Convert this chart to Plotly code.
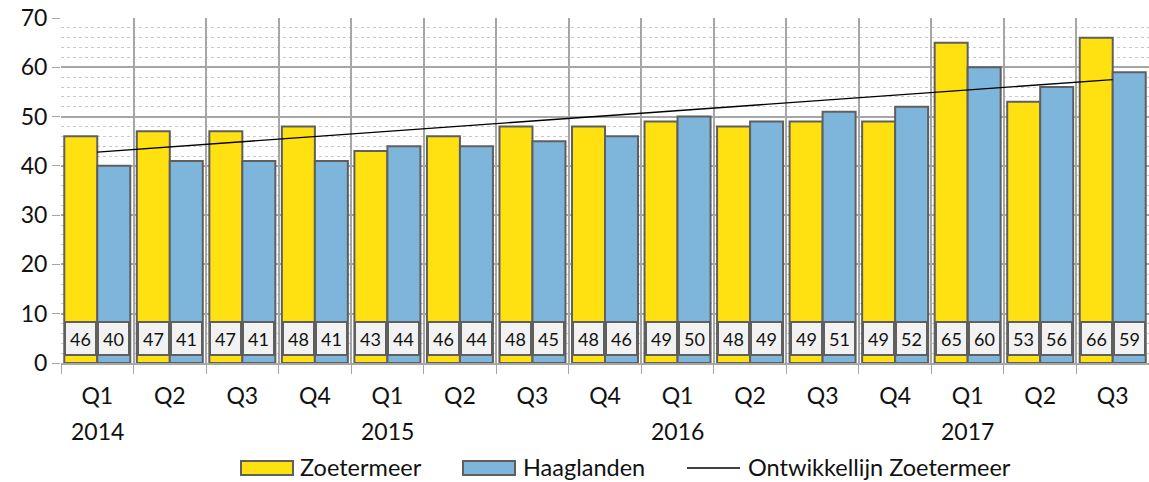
import plotly.graph_objects as go

quarters = ["Q1", "Q2", "Q3", "Q4", "Q1", "Q2", "Q3", "Q4", "Q1", "Q2", "Q3", "Q4", "Q1", "Q2", "Q3"]
years = ["2014", "", "", "", "2015", "", "", "", "2016", "", "", "", "2017", "", ""]
zoetermeer = [46, 47, 47, 48, 43, 46, 48, 48, 49, 48, 49, 49, 65, 53, 66]
haaglanden = [40, 41, 41, 41, 44, 44, 45, 46, 50, 49, 51, 52, 60, 56, 59]
trend_values = [42.8, 57.5]  # start (Q1 2014) and end (Q3 2017) of trend line
series_names = ["Zoetermeer", "Haaglanden", "Ontwikkellijn Zoetermeer"]

cats = [f"{q} {y}" if y else f"{q} {i}" for i, (q, y) in enumerate(zip(quarters, years))]

FONT = "Lato, 'Open Sans', sans-serif"
YELLOW = "#FFE010"
BLUE = "#7EB5DA"
EDGE = "#5F5F5F"
TXT = "#111111"

W, H = 1149, 482
ML, MR, MT, MB = 61, 0, 18, 119
PW, PH = W - ML - MR, H - MT - MB


def px_x(x):
    return (x - ML) / PW


def px_y(y):
    return (H - MB - y) / PH


fig = go.Figure()
fig.add_trace(go.Bar(x=cats, y=zoetermeer, name=series_names[0],
                     marker=dict(color=YELLOW, line=dict(color=EDGE, width=2))))
fig.add_trace(go.Bar(x=cats, y=haaglanden, name=series_names[1],
                     marker=dict(color=BLUE, line=dict(color=EDGE, width=2))))
fig.add_trace(go.Scatter(x=[cats[0], cats[-1]], y=trend_values, mode="lines",
                         name=series_names[2],
                         line=dict(color="black", width=1.3)))

# value boxes
for c, z, h in zip(cats, zoetermeer, haaglanden):
    for v, shift in ((z, -16.5), (h, 16.5)):
        fig.add_annotation(x=c, y=4.9, xref="x", yref="y", text=str(v), showarrow=False,
                           xshift=shift, width=29, height=31, borderpad=0,
                           bgcolor="#F2F2F2", bordercolor=EDGE, borderwidth=2,
                           font=dict(family=FONT, size=18, color=TXT))

# year labels under Q1 ticks
for c, y in zip(cats, years):
    if y:
        fig.add_annotation(x=c, y=px_y(431), xref="x", yref="paper", text=y,
                           showarrow=False, yanchor="middle",
                           font=dict(family=FONT, size=23, color=TXT))

# custom legend
legend_items = [
    (series_names[0], "rect", YELLOW, 241, 293, 298),
    (series_names[1], "rect", BLUE, 463, 515, 521),
    (series_names[2], "line", "black", 687, 740, 746),
]
LY = 468
for name, kind, color, x0, x1, tx in legend_items:
    if kind == "rect":
        fig.add_shape(type="rect", xref="paper", yref="paper",
                      x0=px_x(x0), x1=px_x(x1), y0=px_y(LY + 7), y1=px_y(LY - 7),
                      fillcolor=color, line=dict(color=EDGE, width=2))
    else:
        fig.add_shape(type="line", xref="paper", yref="paper",
                      x0=px_x(x0), x1=px_x(x1), y0=px_y(LY), y1=px_y(LY),
                      line=dict(color=color, width=1.3))
    fig.add_annotation(x=px_x(tx), y=px_y(LY - 1), xref="paper", yref="paper", text=name,
                       showarrow=False, xanchor="left", yanchor="middle",
                       font=dict(family=FONT, size=23.5, color=TXT))

fig.update_layout(
    width=W, height=H,
    margin=dict(l=ML, r=MR, t=MT, b=MB, autoexpand=False),
    paper_bgcolor="white", plot_bgcolor="white",
    barmode="group", bargap=0.09, bargroupgap=0,
    font=dict(family=FONT, size=23, color=TXT),
    showlegend=False,
)
fig.update_xaxes(
    type="category", tickmode="array", tickvals=cats, ticktext=quarters,
    tickson="boundaries", ticks="outside", ticklen=9, tickcolor="#A6A6A6",
    showgrid=True, gridcolor="#A6A6A6", gridwidth=1.5,
    showline=True, linecolor="#A6A6A6", linewidth=1.5,
    ticklabelstandoff=12, tickfont=dict(size=23),
    automargin=False,
)
fig.update_yaxes(
    range=[0, 70], dtick=10, tick0=0,
    ticks="outside", ticklen=8, tickcolor="#A6A6A6",
    showgrid=True, gridcolor="#A6A6A6", gridwidth=1.5,
    zeroline=False, tickfont=dict(size=23), automargin=False,
    minor=dict(dtick=2, showgrid=True, griddash="dot", gridcolor="#C8C8C8", gridwidth=1),
)

fig.write_html("out.html", config={"displayModeBar": False},
               post_script="document.body.style.margin='0px';")
